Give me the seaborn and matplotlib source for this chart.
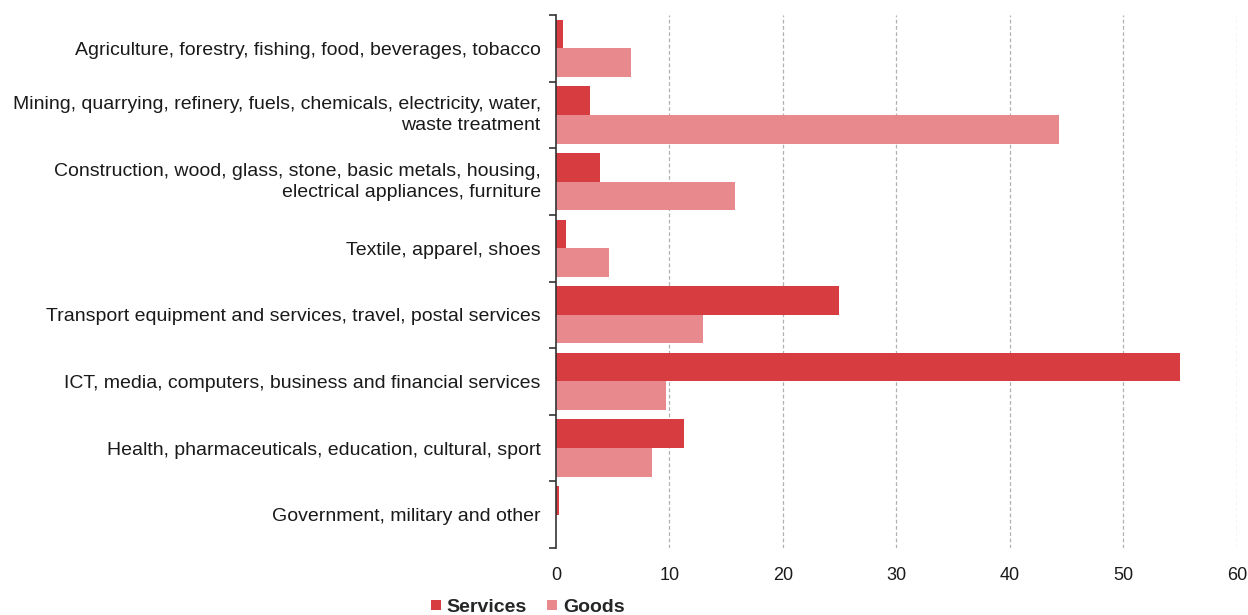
import matplotlib
matplotlib.use("Agg")
import matplotlib.pyplot as plt
import seaborn as sns
import pandas as pd
import numpy as np

categories = [
    "Agriculture, forestry, fishing, food, beverages, tobacco",
    "Mining, quarrying, refinery, fuels, chemicals, electricity, water,\nwaste treatment",
    "Construction, wood, glass, stone, basic metals, housing,\nelectrical appliances, furniture",
    "Textile, apparel, shoes",
    "Transport equipment and services, travel, postal services",
    "ICT, media, computers, business and financial services",
    "Health, pharmaceuticals, education, cultural, sport",
    "Government, military and other",
]
services = [0.6, 3.0, 3.9, 0.9, 24.9, 55.0, 11.3, 0.3]
goods = [6.6, 44.3, 15.8, 4.7, 13.0, 9.7, 8.5, 0.0]
series_names = ["Services", "Goods"]
series_colors = ["#D73C41", "#E8898D"]
x_ticks = [0, 10, 20, 30, 40, 50, 60]

df = pd.DataFrame({
    "category": categories * 2,
    "value": services + goods,
    "series": [series_names[0]] * len(categories) + [series_names[1]] * len(categories),
})

sns.set_theme(style="white")
plt.rcParams["font.family"] = ["Liberation Sans", "DejaVu Sans"]

fig = plt.figure(figsize=(12.48, 6.15), dpi=100)
ax = fig.add_axes([0.4455, 0.109, 0.5455, 0.8665])

sns.barplot(
    data=df, y="category", x="value", hue="series", orient="h",
    palette=series_colors, hue_order=series_names, order=categories,
    width=0.86, linewidth=0, saturation=1, ax=ax, legend=True,
)

ax.set_xlim(0, 60)
ax.set_ylim(len(categories) - 0.5, -0.5)
ax.set_xticks(x_ticks)
ax.set_xticklabels([str(t) for t in x_ticks], fontsize=13, color="#1a1a1a")
ax.tick_params(axis="x", length=0, pad=14)
ax.set_xlabel("")
ax.set_ylabel("")

# category labels centred on groups, tick marks at group boundaries
ax.set_yticks(np.arange(len(categories)))
ax.set_yticklabels(categories, fontsize=14.0, color="#1a1a1a", linespacing=1.32)
ax.tick_params(axis="y", which="major", left=False, length=0, pad=11)
for lbl in ax.get_yticklabels():
    if "\n" in lbl.get_text():
        lbl.set_verticalalignment("center")
ax.set_yticks(np.arange(-0.5, len(categories)), minor=True)
ax.tick_params(axis="y", which="minor", left=True, length=5, width=1.2,
               color="#333333", direction="out")

for t in x_ticks[1:]:
    ax.axvline(t, color="#B0B0B0", linestyle=(0, (3, 2)), linewidth=0.9, zorder=0)

for side in ["top", "right", "bottom"]:
    ax.spines[side].set_visible(False)
ax.spines["left"].set_color("#333333")
ax.spines["left"].set_linewidth(1.2)

ax.legend_.remove()
handles = [plt.Line2D([], [], marker="s", linestyle="", markersize=6.5,
                      markerfacecolor=c, markeredgewidth=0) for c in series_colors]
leg = fig.legend(handles, series_names, loc="center", bbox_to_anchor=(0.4227, 0.013),
                 ncol=2, frameon=False, handlelength=0.6, handletextpad=0.25,
                 columnspacing=1.0, prop={"weight": "bold", "size": 14})

fig.savefig("out.png", dpi=100)
